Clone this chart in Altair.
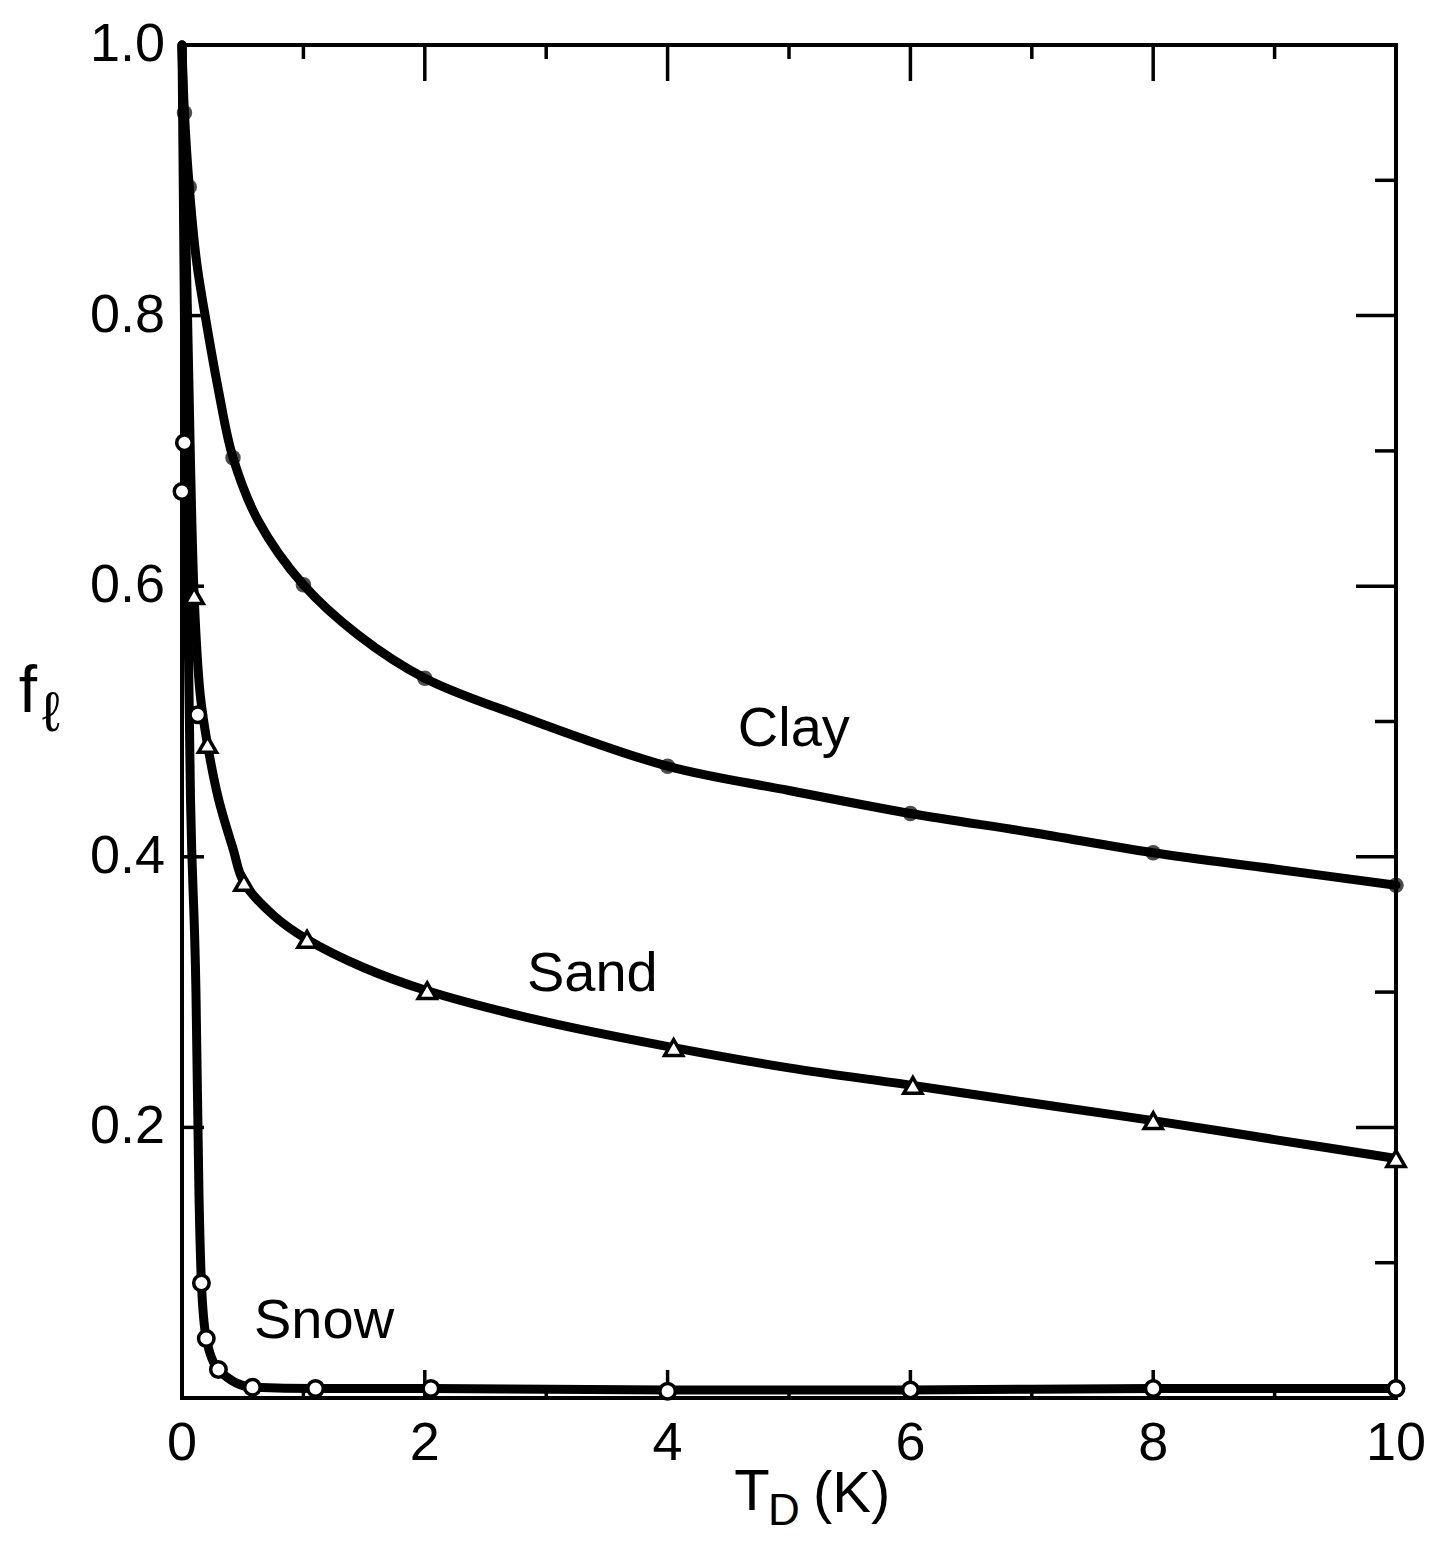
import altair as alt
import pandas as pd

# ---------------- data ----------------
# traced curves
clay_x = [0.0, 0.02, 0.06, 0.12, 0.20, 0.30, 0.42, 0.63, 1.0, 1.45, 2.0, 2.82, 4.0, 5.0, 6.0, 7.0, 8.0, 9.0, 10.0]
clay_y = [1.0, 0.95, 0.895, 0.84, 0.795, 0.745, 0.695, 0.648, 0.601, 0.564, 0.532, 0.503, 0.467, 0.449, 0.432, 0.418, 0.403, 0.391, 0.379]

sand_x = [0.0, 0.05, 0.10, 0.15, 0.21, 0.30, 0.42, 0.51, 0.75, 1.03, 1.5, 2.02, 3.0, 4.05, 5.0, 6.02, 7.0, 8.0, 9.0, 10.0]
sand_y = [1.0, 0.78, 0.593, 0.52, 0.483, 0.443, 0.406, 0.381, 0.357, 0.339, 0.318, 0.301, 0.278, 0.259, 0.244, 0.231, 0.218, 0.205, 0.191, 0.177]

snow_x = [0.0, 0.03, 0.07, 0.115, 0.14, 0.16, 0.20, 0.30, 0.58, 1.1, 2.05, 4.0, 6.0, 8.0, 10.0]
snow_y = [1.0, 0.70, 0.443, 0.30, 0.15, 0.085, 0.044, 0.021, 0.008, 0.007, 0.007, 0.006, 0.006, 0.007, 0.007]

# measured points (markers)
clay_mx = [0.02, 0.06, 0.42, 1.0, 2.0, 4.0, 6.0, 8.0, 10.0]
clay_my = [0.95, 0.895, 0.695, 0.601, 0.532, 0.467, 0.432, 0.403, 0.379]

sand_mx = [0.10, 0.21, 0.51, 1.03, 2.02, 4.05, 6.02, 8.0, 10.0]
sand_my = [0.593, 0.483, 0.381, 0.339, 0.301, 0.259, 0.231, 0.205, 0.177]

snow_mx = [0.02, 0.0, 0.13, 0.16, 0.20, 0.30, 0.58, 1.1, 2.05, 4.0, 6.0, 8.0, 10.0]
snow_my = [0.706, 0.67, 0.505, 0.085, 0.044, 0.021, 0.008, 0.007, 0.007, 0.005, 0.006, 0.007, 0.007]

# axis ticks / labels
x_labels = [0, 2, 4, 6, 8, 10]
y_labels = [0.2, 0.4, 0.6, 0.8, 1.0]
x_major = [2, 4, 6, 8]
x_minor = [1, 3, 5, 7, 9]
y_left = [0.2, 0.4, 0.6, 0.8]
y_right_major = [0.2, 0.4, 0.6, 0.8]
y_right_minor = [0.1, 0.3, 0.5, 0.7, 0.9]

# curve names and their label anchors (data coords)
names = ["Clay", "Sand", "Snow"]
name_x = [5.04, 3.38, 1.17]
name_y = [0.482, 0.301, 0.044]

x_title_parts = ["T", "D", "(K)"]
y_title_parts = ["f", "ℓ"]

# ---------------- chart ----------------
W, H = 1214, 1353
FONT = "Liberation Sans"

xs = alt.Scale(domain=[0, 10], nice=False, zero=False)
ys = alt.Scale(domain=[0, 1], nice=False, zero=False)


def X(f="x"):
    return alt.X(f + ":Q", scale=xs, axis=None)


def Y(f="y"):
    return alt.Y(f + ":Q", scale=ys, axis=None)


def curve(xv, yv, interp):
    df = pd.DataFrame({"x": xv, "y": yv, "i": list(range(len(xv)))})
    return alt.Chart(df).mark_line(
        color="black", strokeWidth=9, interpolate=interp, strokeCap="round", strokeJoin="round"
    ).encode(x=X(), y=Y(), order="i:Q")


clay_line = curve(clay_x, clay_y, "catmull-rom")
sand_line = curve(sand_x, sand_y, "catmull-rom")
snow_line = curve(snow_x, snow_y, "monotone")

clay_pts = alt.Chart(pd.DataFrame({"x": clay_mx, "y": clay_my})).mark_point(
    shape="circle", filled=True, color="black", size=240
).encode(x=X(), y=Y())

sand_pts = alt.Chart(pd.DataFrame({"x": sand_mx, "y": sand_my})).mark_point(
    shape="triangle-up", filled=True, fill="white", stroke="black", strokeWidth=3.5, size=330, opacity=1
).encode(x=X(), y=Y())

snow_pts = alt.Chart(pd.DataFrame({"x": snow_mx, "y": snow_my})).mark_point(
    shape="circle", filled=True, fill="white", stroke="black", strokeWidth=3.5, size=240, opacity=1
).encode(x=X(), y=Y())


def vticks(vals, y0, y1):
    return alt.Chart(pd.DataFrame({"v": vals})).mark_rule(color="black", strokeWidth=3.5).encode(
        x=X("v"), y=alt.value(y0), y2=alt.value(y1))


def hticks(vals, x0, x1):
    return alt.Chart(pd.DataFrame({"v": vals})).mark_rule(color="black", strokeWidth=3.5).encode(
        y=Y("v"), x=alt.value(x0), x2=alt.value(x1))


ticks = [
    vticks(x_major, 0, 36), vticks(x_minor, 0, 14),
    vticks(x_major, H, H - 28), vticks(x_minor, H, H - 10),
    hticks(y_left, 0, 22),
    hticks(y_right_major, W, W - 40), hticks(y_right_minor, W, W - 21),
]

x_tick_labels = alt.Chart(pd.DataFrame({"v": x_labels})).mark_text(
    font=FONT, fontSize=54, color="black", align="center", baseline="alphabetic"
).encode(x=X("v"), y=alt.value(H + 62), text=alt.Text("v:Q", format="d"))

y_tick_labels = alt.Chart(pd.DataFrame({"v": y_labels})).mark_text(
    font=FONT, fontSize=54, color="black", align="right", baseline="middle"
).encode(y=Y("v"), x=alt.value(-17), text=alt.Text("v:Q", format=".1f"))

labels = alt.Chart(pd.DataFrame({"n": names, "x": name_x, "y": name_y})).mark_text(
    font=FONT, fontSize=56, color="black", align="center", baseline="alphabetic"
).encode(x=X(), y=Y(), text="n:N")


def txt(s, x, y, size, align="center"):
    return alt.Chart(pd.DataFrame({"t": [s]})).mark_text(
        font=FONT, fontSize=size, color="black", align=align, baseline="alphabetic"
    ).encode(text="t:N", x=alt.value(x), y=alt.value(y))


titles = [
    txt(x_title_parts[0], 570, 1465, 58),
    txt(x_title_parts[1], 602, 1480, 44),
    txt(x_title_parts[2], 631, 1467, 58, align="left"),
    txt(y_title_parts[0], -154, 667, 66),
    txt(y_title_parts[1], -131, 686, 56),
]

chart = alt.layer(
    clay_line, sand_line, snow_line, *ticks, clay_pts, sand_pts, snow_pts,
    x_tick_labels, y_tick_labels, labels, *titles
).properties(
    width=W, height=H,
    autosize=alt.AutoSizeParams(type="none"),
    padding={"left": 174, "top": 37, "right": 36, "bottom": 140},
    background="white",
).configure_view(stroke="black", strokeWidth=4)

chart.save("out.html", embed_options={"renderer": "svg", "actions": False})
